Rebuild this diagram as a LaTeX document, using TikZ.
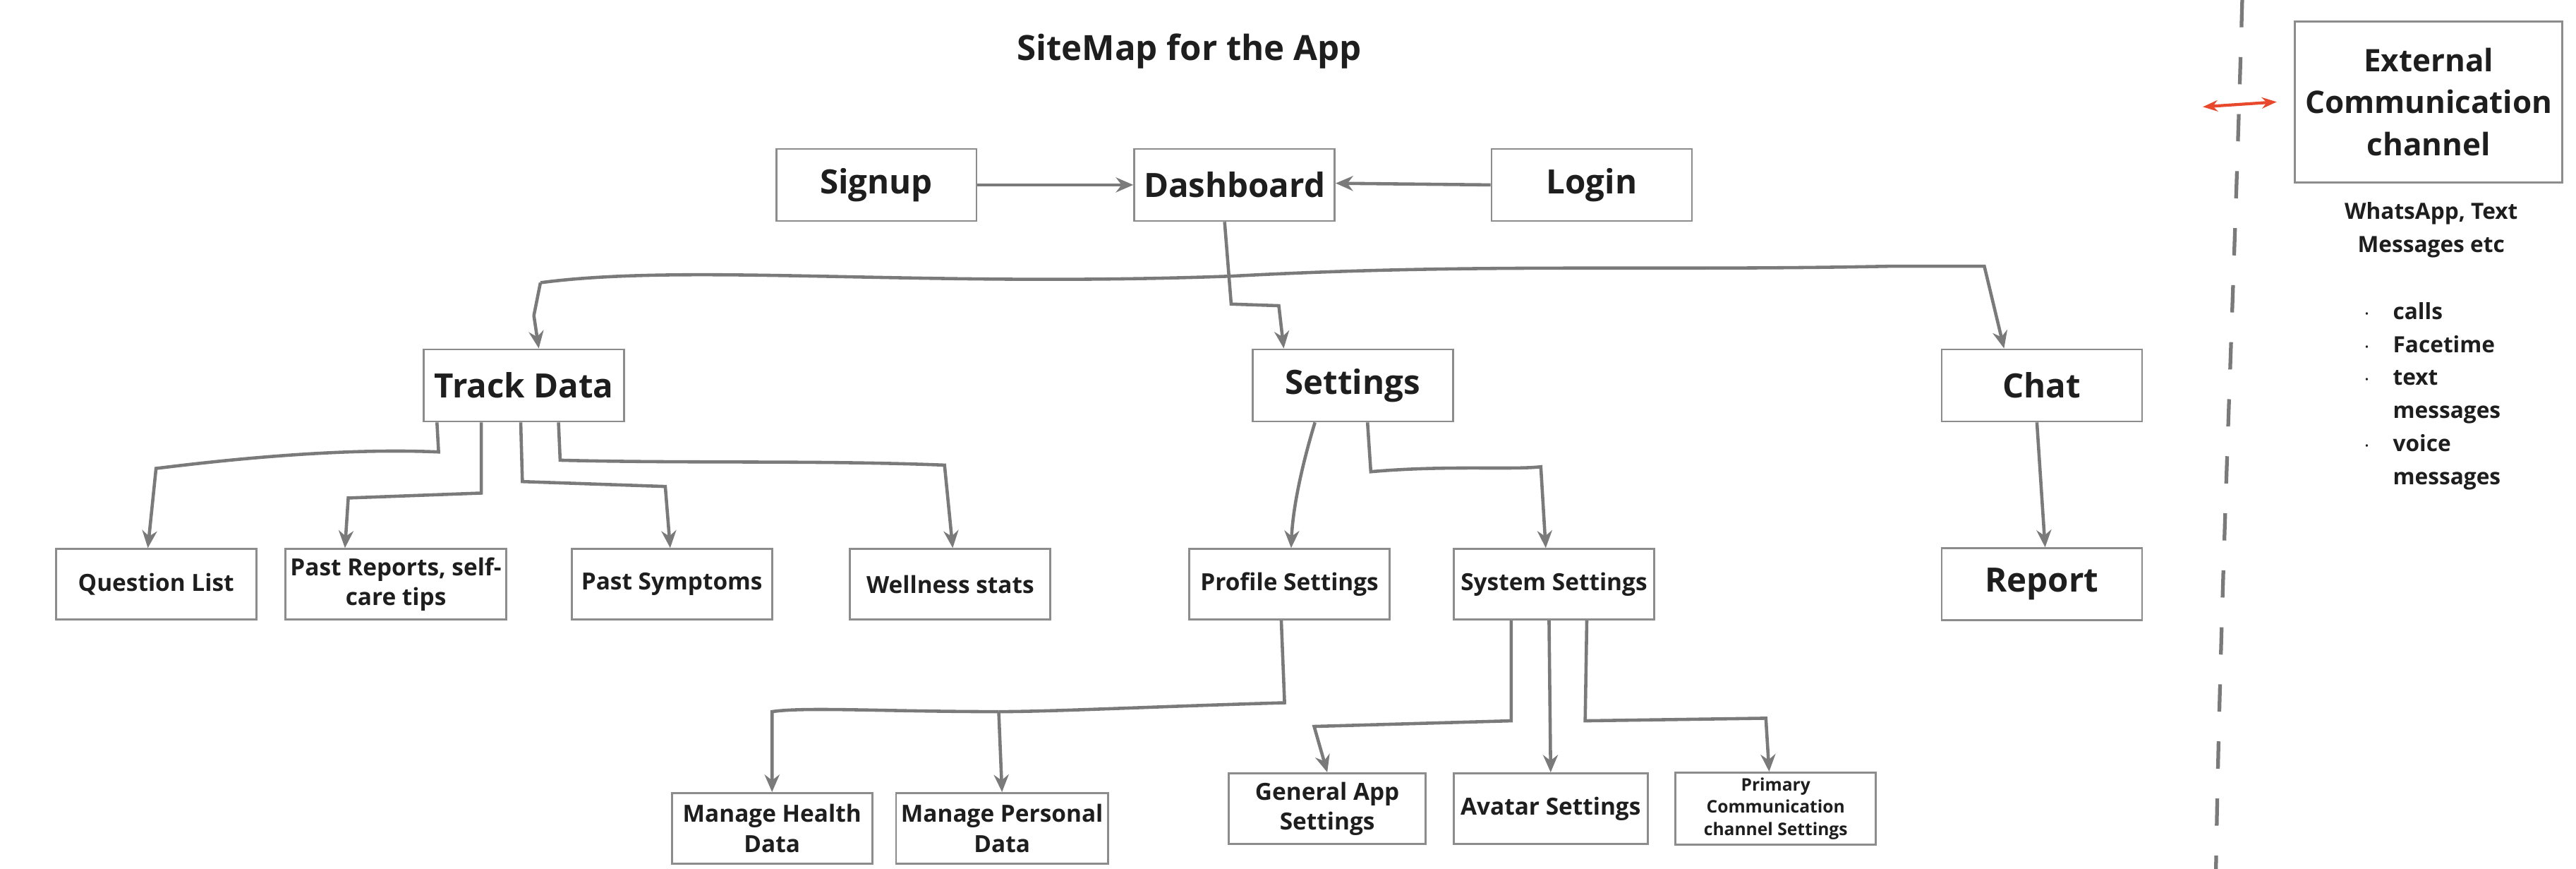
\documentclass[tikz,border=0pt]{standalone}
\usepackage{fontspec}
\setmainfont{Open Sans}
\usetikzlibrary{calc,arrows.meta,positioning}
\definecolor{linegray}{HTML}{7A7A7A}
\definecolor{boxgray}{HTML}{8C8C8C}
\definecolor{arrowred}{HTML}{E8482C}
\definecolor{inkblack}{HTML}{1E1E1E}

\begin{document}
\begin{tikzpicture}[x=0.02328cm, y=-0.02328cm,
  box/.style={draw=boxgray, line width=0.8pt, minimum width=2.84cm, minimum height=1.0cm,
    align=center, text=inkblack, font=\bfseries\fontsize{9.5}{12}\selectfont, inner sep=2pt},
  bigbox/.style={box, font=\bfseries\fontsize{13.5}{16}\selectfont, minimum height=1.02cm},
  link/.style={draw=linegray, line width=1.3pt, -{Stealth[length=7pt,width=6pt]}},
  wire/.style={draw=linegray, line width=1.3pt}]
  \useasboundingbox (0,0) rectangle (1568.2,528.7);

  \node[font=\bfseries\fontsize{14}{16}\selectfont, text=inkblack] (title) at (724,31) {SiteMap for the App};

  % top row
  \node[bigbox] (sign) at (533.5,112.5) {Signup};
  \node[bigbox] (dash) at (751.5,112.5) {Dashboard};
  \node[bigbox] (login) at (969,112.5) {Login};

  % second row
  \node[bigbox] (trk) at (319,234.5) {Track Data};
  \node[bigbox] (set) at (823.5,234.5) {Settings};
  \node[bigbox] (chat) at (1243,234.5) {Chat};

  % third row
  \node[box] (qlist) at (95,355.5) {Question List};
  \node[box] (past) at (241,355.5) {Past Reports, self-\\care tips};
  \node[box] (symp) at (409,355.5) {Past Symptoms};
  \node[box] (well) at (578.5,355.5) {Wellness stats};
  \node[box] (prof) at (785,355.5) {Profile Settings};
  \node[box] (sys) at (946,355.5) {System Settings};
  \node[bigbox] (rep) at (1243,355.5) {Report};

  % fourth row
  \node[box] (mhealth) at (470,504) {Manage Health\\Data};
  \node[box] (mpers) at (610,504) {Manage Personal\\Data};
  \node[box, minimum width=2.79cm] (gen) at (808,492) {General App\\Settings};
  \node[box, minimum width=2.75cm] (avat) at (944,492) {Avatar Settings};
  \node[box, font=\bfseries\fontsize{7}{9}\selectfont] (prim) at (1081,492) {Primary\\Communication\\channel Settings};

  % external channel
  \node[box, minimum width=3.79cm, minimum height=2.28cm, font=\bfseries\fontsize{12.5}{17}\selectfont] (ext) at (1478.5,62) {External\\Communication\\channel};
  \node[font=\bfseries\fontsize{9}{13.3}\selectfont, text=inkblack, align=center] (wapp) at (1480,140) {WhatsApp, Text\\Messages etc};
  \node[font=\bfseries\fontsize{9}{13.3}\selectfont, text=inkblack, anchor=north west, inner sep=0pt] (chan) at (1439,180)
    {\begin{tabular}{@{}l@{\hspace{9pt}}l@{}}
      $\cdot$ & calls\\ $\cdot$ & Facetime\\ $\cdot$ & text\\ & messages\\ $\cdot$ & voice\\ & messages
    \end{tabular}};

  % divider and link to the outside
  \coordinate (divtop) at (1365,0);
  \coordinate (divbot) at (1349,529);
  \draw[linegray, line width=1.5pt, dash pattern=on 11pt off 12pt] (divtop) .. controls (1360,180) and (1352,350) .. (divbot);
  \coordinate (redl) at (1341,65);
  \coordinate (redr) at (1386,62);
  \draw[arrowred, line width=1.2pt, {Stealth[length=6pt]}-{Stealth[length=6pt]}] (redl) -- (redr);

  % connectors
  \draw[link] (sign.east) -- (dash.west);
  \draw[link] (login.west) -- ($(dash.east)+(0,-1)$);
  \draw[link] ($(dash.south)+(-6,0)$) -- ++(4,50) -- ++(29,1) -- ($(set.north)+(-42,0)$);
  \draw[link] ($(trk.north)+(10,-40)$) .. controls (420,160) and (560,175) .. (750,168)
    .. controls (900,160) and (1000,165) .. (1150,162) -- (1208,162) -- ($(chat.north)+(-23,0)$);
  \draw[wire] ($(trk.north)+(10,-40)$) -- ($(trk.north)+(6,-20)$);
  \draw[link] ($(trk.north)+(6,-20)$) -- ($(trk.north)+(9,0)$);

  \draw[link] ($(trk.south)+(-53,0)$) -- ++(1,18) .. controls (200,272) and (120,282) .. (95,285) -- ($(qlist.north)+(-5,0)$);
  \draw[link] ($(trk.south)+(-26,0)$) -- ++(0,43) -- (212,303) -- ($(past.north)+(-31,0)$);
  \draw[link] ($(trk.south)+(-2,0)$) -- ++(1,36) -- (405,296) -- ($(symp.north)+(-1,0)$);
  \draw[link] ($(trk.south)+(21,0)$) -- ++(1,23) .. controls (420,282) and (500,280) .. (575,283) -- ($(well.north)+(1.5,0)$);

  \draw[link] ($(set.south)+(-23,0)$) .. controls (792,285) and (787,310) .. ($(prof.north)+(1,0)$);
  \draw[link] ($(set.south)+(9,0)$) -- ++(2,30) .. controls (880,283) and (920,286) .. (938,284) -- ($(sys.north)+(-5,0)$);
  \draw[link] ($(chat.south)+(-3,0)$) -- ($(rep.north)+(2,0)$);

  \draw[wire] ($(prof.south)+(-5,0)$) -- ++(2,50) .. controls (700,430) and (640,433) .. (608,433);
  \draw[link] (608,433) -- (mpers.north);
  \draw[link] (608,433) .. controls (540,433) and (490,430) .. (470,433) -- (mhealth.north);
  \draw[link] ($(sys.south)+(-26,0)$) -- ++(0,61) -- (800,442) -- (gen.north);
  \draw[link] ($(sys.south)+(-3,0)$) -- (avat.north);
  \draw[link] ($(sys.south)+(20,0)$) -- ++(-1,61) -- (1075,437) -- ($(prim.north)+(-4,0)$);
\end{tikzpicture}
\end{document}
